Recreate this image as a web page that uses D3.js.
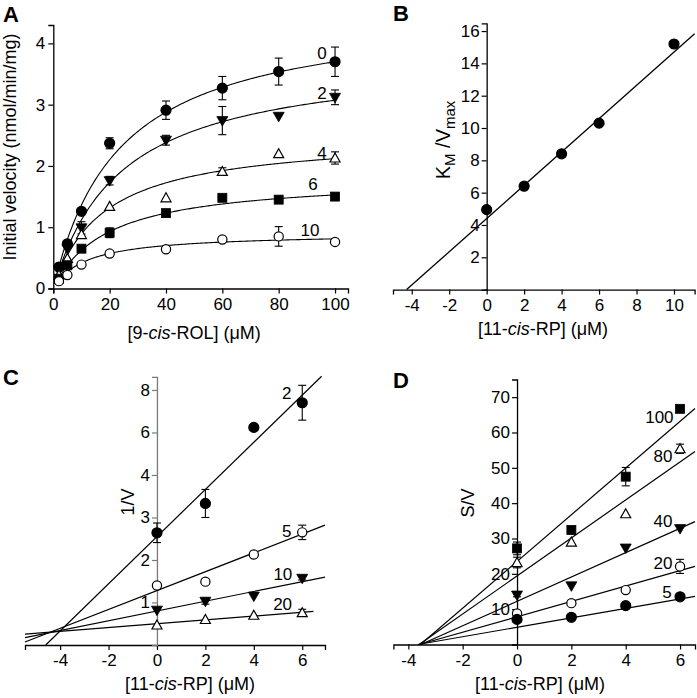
<!DOCTYPE html>
<html><head><meta charset="utf-8">
<script src="https://cdn.jsdelivr.net/npm/d3@7"></script>
<style>
body{margin:0;background:#fff;}
svg{font-family:"Liberation Sans",Arial,Helvetica,sans-serif;}
</style></head><body>
<svg id="chart" width="697" height="698"></svg>
<script>
// ---------- Panel A data ----------
const aConc = [2,5,10,20,40,60,80,100];
const aSeries = ["0","2","4","6","10"];
const aValues = [
  [0.35,0.73,1.26,2.37,2.91,3.27,3.54,3.70],
  [0.30,0.65,0.99,1.76,2.42,2.74,2.81,3.12],
  [0.22,0.49,0.88,1.34,1.48,1.91,2.20,2.13],
  [0.16,0.38,0.65,0.91,1.23,1.48,1.45,1.50],
  [0.12,0.22,0.39,0.57,0.64,0.80,0.85,0.76]];
const aErrors = [
  [0,0,0.03,0.09,0.15,0.19,0.22,0.24],
  [0,0,0.10,0.07,0.08,0.23,0,0.12],
  [0,0,0,0,0,0.06,0,0.10],
  [0,0,0,0.08,0,0,0,0],
  [0,0,0,0.05,0,0,0.16,0]];
const aVmax = [4.57,3.81,2.50,1.82,0.905];   // Michaelis-Menten fit
const aKm   = [23.5,24.0,18.0,19.2,11.7];
const aSymbols = ["circleF","triDownF","triUpO","squareF","circleO"];
const aLabelX = [95.4,95.4,95.4,92.2,91.1];
const aLabelY = [3.83,3.19,2.21,1.69,0.95];
const aXTicks = [0,20,40,60,80,100];
const aYTicks = [0,1,2,3,4];

// ---------- Panel B data ----------
const bConc = [0,2,4,6,10];
const bValues = [4.95,6.4,8.4,10.3,15.2];
const bSlope = 1.03, bIntercept = 4.4;
const bXTicks = [-4,-2,0,2,4,6,8,10];
const bYTicks = [2,4,6,8,10,12,14,16];

// ---------- Panel C data ----------
const cConc = [0,2,4,6];
const cSeries = ["2","5","10","20"];
const cValues = [
  [2.64,3.33,5.12,5.70],
  [1.40,1.49,2.13,2.65],
  [0.82,1.03,1.15,1.57],
  [0.47,0.60,0.70,0.76]];
const cErrors = [
  [0.23,0.33,0.06,0.41],
  [0.05,0,0,0.17],
  [0,0.07,0,0.04],
  [0,0,0,0.08]];
const cSlope = [0.555,0.222,0.115,0.045];
const cIntercept = [2.55,1.28,0.80,0.50];
const cLineStart = [null,-5.45,-5.45,-5.45];  // null = from x-intercept
const cLineEnd = [6.8,6.94,6.94,6.46];
const cSymbols = ["circleF","circleO","triDownF","triUpO"];
const cLabelX = [5.36,5.36,5.2,5.19];
const cLabelY = [5.92,2.68,1.67,0.96];
const cXTicks = [-4,-2,0,2,4,6];
const cYTickPos = [1,2,3,4,5,6];
const cYTickLabels = ["1","2","3","4","6","8"];

// ---------- Panel D data ----------
const dConc = [0,2,4,6];
const dSeries = ["100","80","40","20","5"];
const dValues = [
  [27.2,32.4,47.5,66.7],
  [23.2,29.0,37.0,55.4],
  [14.0,16.6,27.3,32.8],
  [8.8,11.7,15.4,22.1],
  [7.1,7.7,11.0,13.5]];
const dErrors = [
  [1.8,1.0,2.6,0],
  [1.5,0,0,1.3],
  [0.5,0,0,0],
  [0,0,0,2.0],
  [0,0,0,0]];
const dSlope = [6.61,5.38,3.445,2.18,1.334];
const dIntercept = [23.5,19.4,12.2,7.85,4.87];
const dLineEnd = 6.55;
const dSymbols = ["squareF","triUpO","triDownF","circleO","circleF"];
const dLabelX = [5.24,5.37,5.37,5.37,5.52];
const dLabelY = [64.2,53.1,34.8,22.8,14.6];
const dXTicks = [-4,-2,0,2,4,6];
const dYTicks = [10,20,30,40,50,60,70];

// ---------- drawing helpers ----------
const svg = d3.select("#chart");
const FS_TICK = 17, FS_TITLE = 18;
const plain = d => String(d);

function marker(g, type, cx, cy) {
  const filled = type.endsWith("F");
  const fill = filled ? "#000" : "#fff";
  const sw = 1.2;
  if (type.startsWith("circle")) {
    g.append("circle").attr("cx", cx).attr("cy", cy).attr("r", filled ? 5 : 4.6)
      .attr("fill", fill).attr("stroke", "#000").attr("stroke-width", sw);
  } else if (type.startsWith("square")) {
    g.append("rect").attr("x", cx-4.5).attr("y", cy-4.5).attr("width", 9).attr("height", 9)
      .attr("fill", fill).attr("stroke", "#000").attr("stroke-width", 0.8);
  } else if (type.startsWith("triDown")) {
    g.append("path").attr("d", `M${cx-5.5},${cy-4}L${cx+5.5},${cy-4}L${cx},${cy+5.5}Z`)
      .attr("fill", fill).attr("stroke", "#000").attr("stroke-width", 0.8);
  } else if (type.startsWith("triUp")) {
    g.append("path").attr("d", `M${cx},${cy-5}L${cx+5},${cy+4}L${cx-5},${cy+4}Z`)
      .attr("fill", fill).attr("stroke", "#000").attr("stroke-width", sw);
  }
}

function errorBar(g, cx, y0, y1) {
  g.append("line").attr("x1", cx).attr("x2", cx).attr("y1", y0).attr("y2", y1)
    .attr("stroke", "#000").attr("stroke-width", 1.1);
  [y0, y1].forEach(yy => g.append("line").attr("x1", cx-4).attr("x2", cx+4)
    .attr("y1", yy).attr("y2", yy).attr("stroke", "#000").attr("stroke-width", 1.1));
}

function styleAxis(ax, color) {
  ax.selectAll("path.domain").attr("stroke", color || "#000").attr("stroke-width", 1.3);
  ax.selectAll(".tick line").attr("stroke", color || "#000").attr("stroke-width", 1.2);
  ax.selectAll(".tick text").attr("font-size", FS_TICK).attr("fill", "#000")
    .attr("font-family", "Liberation Sans, Arial, sans-serif");
}

function panelLetter(t, x, y) {
  svg.append("text").attr("x", x).attr("y", y).text(t)
    .attr("font-size", 22).attr("font-weight", "bold");
}

function seriesLabels(g, x, y, labels, lx, ly) {
  labels.forEach((s, i) => g.append("text").attr("x", x(lx[i])).attr("y", y(ly[i]))
    .attr("text-anchor", "middle").attr("dominant-baseline", "central")
    .attr("font-size", FS_TICK).text(s));
}

// ---------- Panel A ----------
{
  const x = d3.scaleLinear().domain([0, 104.6]).range([53.3, 348]);
  const y = d3.scaleLinear().domain([0, 4.3]).range([288.5, 25]);
  const g = svg.append("g");
  const xa = g.append("g").attr("transform", `translate(0,${y(0)})`)
    .call(d3.axisBottom(x).tickValues(aXTicks).tickFormat(plain).tickSizeOuter(0).tickSize(5).tickPadding(4));
  const ya = g.append("g").attr("transform", `translate(${x(0)},0)`)
    .call(d3.axisLeft(y).tickValues(aYTicks).tickFormat(plain).tickSizeOuter(0).tickSize(5).tickPadding(3));
  styleAxis(xa); styleAxis(ya);
  const line = d3.line().x(d => x(d[0])).y(d => y(d[1]));
  const samples = d3.range(1.5, 100.01, 0.5);
  aSeries.forEach((s, i) => {
    g.append("path").attr("d", line(samples.map(c => [c, aVmax[i]*c/(aKm[i]+c)])))
      .attr("fill", "none").attr("stroke", "#000").attr("stroke-width", 1.1);
  });
  aSeries.forEach((s, i) => {
    aConc.forEach((c, j) => {
      if (aErrors[i][j] > 0) errorBar(g, x(c), y(aValues[i][j]+aErrors[i][j]), y(aValues[i][j]-aErrors[i][j]));
    });
  });
  aSeries.forEach((s, i) => aConc.forEach((c, j) => marker(g, aSymbols[i], x(c), y(aValues[i][j]))));
  seriesLabels(g, x, y, aSeries, aLabelX, aLabelY);
  g.append("text").attr("x", (x(0)+x(100))/2).attr("y", 339).attr("text-anchor", "middle")
    .attr("font-size", FS_TITLE)
    .html('[9-<tspan font-style="italic">cis</tspan>-ROL] (μM)');
  g.append("text").attr("transform", `translate(16,147) rotate(-90)`).attr("text-anchor", "middle")
    .attr("font-size", FS_TITLE).text("Initial velocity (nmol/min/mg)");
  panelLetter("A", 3, 22);
}

// ---------- Panel B ----------
{
  const x = d3.scaleLinear().domain([-5, 11.1]).range([393, 694.6]);
  const y = d3.scaleLinear().domain([0, 16.48]).range([289.6, 23.3]);
  const g = svg.append("g");
  const xa = g.append("g").attr("transform", `translate(0,${y(0)})`)
    .call(d3.axisBottom(x).tickValues(bXTicks).tickFormat(plain).tickSizeOuter(0).tickSize(5).tickPadding(4));
  const ya = g.append("g").attr("transform", `translate(${x(0)},0)`)
    .call(d3.axisLeft(y).tickValues(bYTicks).tickFormat(plain).tickSizeOuter(0).tickSize(5).tickPadding(2));
  styleAxis(xa); styleAxis(ya);
  const x0 = -bIntercept / bSlope, x1 = 11.1;
  g.append("line").attr("x1", x(x0)).attr("y1", y(0)).attr("x2", x(x1)).attr("y2", y(bIntercept + bSlope*x1))
    .attr("stroke", "#000").attr("stroke-width", 1.3);
  bConc.forEach((c, j) => marker(g, "circleF", x(c), y(bValues[j])));
  g.append("text").attr("x", 543).attr("y", 335).attr("text-anchor", "middle")
    .attr("font-size", FS_TITLE)
    .html('[11-<tspan font-style="italic">cis</tspan>-RP] (μM)');
  g.append("text").attr("transform", `translate(450,140) rotate(-90)`).attr("text-anchor", "middle")
    .attr("font-size", 20)
    .html('K<tspan font-size="15" dy="5">M</tspan><tspan dy="-5"> /V</tspan><tspan font-size="15" dy="5">max</tspan>');
  panelLetter("B", 393, 21);
}

// ---------- Panel C ----------
{
  const x = d3.scaleLinear().domain([-5.45, 6.94]).range([25, 325]);
  const y = d3.scaleLinear().domain([0, 6.31]).range([645, 376.8]);
  const g = svg.append("g");
  const xa = g.append("g").attr("transform", `translate(0,${y(0)})`)
    .call(d3.axisBottom(x).tickValues(cXTicks).tickFormat(plain).tickSizeOuter(0).tickSize(5).tickPadding(4));
  const ya = g.append("g").attr("transform", `translate(${x(0)},0)`)
    .call(d3.axisLeft(y).tickValues(cYTickPos).tickFormat((d, i) => cYTickLabels[i])
      .tickSizeOuter(0).tickSize(5).tickPadding(2));
  styleAxis(xa); styleAxis(ya, "#7a7a7a");
  cSeries.forEach((s, i) => {
    const xs = cLineStart[i] === null ? -cIntercept[i]/cSlope[i] : cLineStart[i];
    const xe = cLineEnd[i];
    g.append("line").attr("x1", x(xs)).attr("y1", y(cIntercept[i] + cSlope[i]*xs))
      .attr("x2", x(xe)).attr("y2", y(cIntercept[i] + cSlope[i]*xe))
      .attr("stroke", "#000").attr("stroke-width", 1.2);
  });
  cSeries.forEach((s, i) => cConc.forEach((c, j) => {
    if (cErrors[i][j] > 0) errorBar(g, x(c), y(cValues[i][j]+cErrors[i][j]), y(cValues[i][j]-cErrors[i][j]));
  }));
  cSeries.forEach((s, i) => cConc.forEach((c, j) => marker(g, cSymbols[i], x(c), y(cValues[i][j]))));
  seriesLabels(g, x, y, cSeries, cLabelX, cLabelY);
  g.append("text").attr("x", 190).attr("y", 690).attr("text-anchor", "middle")
    .attr("font-size", FS_TITLE)
    .html('[11-<tspan font-style="italic">cis</tspan>-RP] (μM)');
  g.append("text").attr("transform", `translate(134,502) rotate(-90)`).attr("text-anchor", "middle")
    .attr("font-size", FS_TITLE).text("1/V");
  panelLetter("C", 3, 385);
}

// ---------- Panel D ----------
{
  const x = d3.scaleLinear().domain([-4.55, 6.55]).range([393.4, 695]);
  const y = d3.scaleLinear().domain([0, 75]).range([644.5, 379.5]);
  const g = svg.append("g");
  const xa = g.append("g").attr("transform", `translate(0,${y(0)})`)
    .call(d3.axisBottom(x).tickValues(dXTicks).tickFormat(plain).tickSizeOuter(0).tickSize(5).tickPadding(4));
  const ya = g.append("g").attr("transform", `translate(${x(0)},0)`)
    .call(d3.axisLeft(y).tickValues(dYTicks).tickFormat(plain).tickSizeOuter(0).tickSize(5).tickPadding(2));
  styleAxis(xa); styleAxis(ya);
  dSeries.forEach((s, i) => {
    const xs = -dIntercept[i]/dSlope[i];
    g.append("line").attr("x1", x(xs)).attr("y1", y(0))
      .attr("x2", x(dLineEnd)).attr("y2", y(dIntercept[i] + dSlope[i]*dLineEnd))
      .attr("stroke", "#000").attr("stroke-width", 1.2);
  });
  dSeries.forEach((s, i) => dConc.forEach((c, j) => {
    if (dErrors[i][j] > 0) errorBar(g, x(c), y(dValues[i][j]+dErrors[i][j]), y(dValues[i][j]-dErrors[i][j]));
  }));
  dSeries.forEach((s, i) => dConc.forEach((c, j) => marker(g, dSymbols[i], x(c), y(dValues[i][j]))));
  seriesLabels(g, x, y, dSeries, dLabelX, dLabelY);
  g.append("text").attr("x", 540).attr("y", 690).attr("text-anchor", "middle")
    .attr("font-size", FS_TITLE)
    .html('[11-<tspan font-style="italic">cis</tspan>-RP] (μM)');
  g.append("text").attr("transform", `translate(474,503) rotate(-90)`).attr("text-anchor", "middle")
    .attr("font-size", FS_TITLE).text("S/V");
  panelLetter("D", 393, 388);
}
</script>
</body></html>
